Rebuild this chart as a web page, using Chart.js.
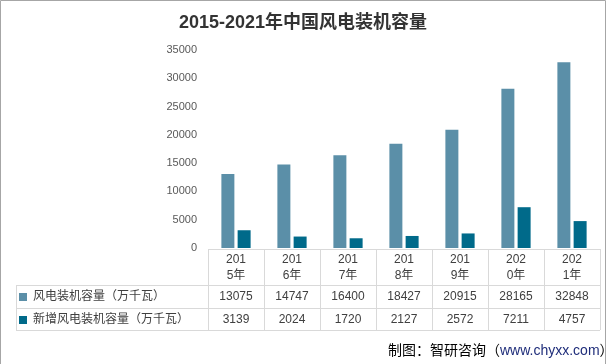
<!DOCTYPE html>
<html>
<head>
<meta charset="utf-8">
<script src="https://cdn.jsdelivr.net/npm/chart.js@4/dist/chart.umd.min.js"></script>
<style>
  html, body { margin: 0; padding: 0; background: #fff; }
  #wrap { width: 606px; height: 364px; position: relative; }
</style>
</head>
<body>
<div id="wrap"><canvas id="chart" width="606" height="364"></canvas></div>
<script>
const years = ['2015年', '2016年', '2017年', '2018年', '2019年', '2020年', '2021年'];
const seriesNames = ['风电装机容量（万千瓦）', '新增风电装机容量（万千瓦）'];
const capacity = [13075, 14747, 16400, 18427, 20915, 28165, 32848];
const added = [3139, 2024, 1720, 2127, 2572, 7211, 4757];
const colors = ['#5B8FA8', '#006A8A'];

const cjk = '"Liberation Sans", "Noto Sans CJK SC", sans-serif';

// draws title, frame, data table and source note
const tablePlugin = {
    id: 'tablePlugin',
    afterDraw(chart) {
        const ctx = chart.ctx;
        const x = chart.scales.x;
        const area = chart.chartArea;
        const band = x.width / years.length;
        const rows = [249, 285, 308, 330];
        ctx.save();

        // outer frame (top, left, right)
        ctx.strokeStyle = '#A6A6A6';
        ctx.lineWidth = 1;
        ctx.beginPath();
        ctx.moveTo(0.5, 364); ctx.lineTo(0.5, 0.5); ctx.lineTo(605.5, 0.5); ctx.lineTo(605.5, 364);
        ctx.stroke();

        // title
        ctx.fillStyle = '#333333';
        ctx.font = 'bold 18px ' + cjk;
        ctx.textAlign = 'center';
        ctx.textBaseline = 'middle';
        ctx.fillText('2015-2021年中国风电装机容量', 303, 23);

        // table lines
        ctx.strokeStyle = '#D9D9D9';
        ctx.beginPath();
        ctx.moveTo(area.left, rows[0] + 0.5); ctx.lineTo(area.right, rows[0] + 0.5);
        for (let r = 1; r < rows.length; r++) {
            ctx.moveTo(16, rows[r] + 0.5); ctx.lineTo(area.right, rows[r] + 0.5);
        }
        ctx.moveTo(16.5, rows[1]); ctx.lineTo(16.5, rows[3]);
        for (let i = 0; i <= years.length; i++) {
            const px = Math.round(area.left + i * band) + 0.5;
            ctx.moveTo(px, rows[0]); ctx.lineTo(px, rows[3]);
        }
        ctx.stroke();

        // header: year split over two lines like the original
        ctx.fillStyle = '#404040';
        ctx.font = '12px ' + cjk;
        years.forEach((y, i) => {
            const cx = x.getPixelForValue(i);
            ctx.fillText(y.slice(0, 3), cx, 260);
            ctx.fillText(y.slice(3), cx, 276);
        });

        // value rows
        [capacity, added].forEach((vals, r) => {
            const cy = r === 0 ? 297 : 320;
            vals.forEach((v, i) => {
                ctx.fillText(String(v), x.getPixelForValue(i), cy);
            });
            ctx.fillStyle = colors[r];
            ctx.fillRect(19, cy - 4, 8, 8);
            ctx.fillStyle = '#404040';
            ctx.textAlign = 'left';
            ctx.fillText(seriesNames[r], 33, cy);
            ctx.textAlign = 'center';
        });

        // source note
        ctx.textAlign = 'left';
        ctx.font = '14px ' + cjk;
        ctx.fillStyle = '#000000';
        const a = '制图：智研咨询（';
        const b = 'www.chyxx.com';
        let sx = 388;
        ctx.fillText(a, sx, 351);
        sx += ctx.measureText(a).width;
        ctx.fillStyle = '#1F2D7A';
        ctx.fillText(b, sx, 351);
        sx += ctx.measureText(b).width;
        ctx.fillStyle = '#000000';
        ctx.fillText('）', sx, 351);
        ctx.restore();
    }
};

new Chart(document.getElementById('chart').getContext('2d'), {
    type: 'bar',
    data: {
        labels: years,
        datasets: [
            { label: seriesNames[0], data: capacity, backgroundColor: colors[0] },
            { label: seriesNames[1], data: added, backgroundColor: colors[1] }
        ]
    },
    options: {
        responsive: false,
        animation: false,
        devicePixelRatio: 1,
        layout: { padding: { left: 0, right: 6, top: 50, bottom: 116 } },
        datasets: { bar: { categoryPercentage: 0.58, barPercentage: 0.8 } },
        plugins: {
            legend: { display: false },
            title: { display: false },
            tooltip: { enabled: false }
        },
        scales: {
            x: { display: false },
            y: {
                min: 0,
                max: 35000,
                afterFit(scale) { scale.width = 208; },
                grid: { display: false, drawTicks: false },
                border: { display: false },
                ticks: {
                    stepSize: 5000,
                    padding: 11,
                    color: '#595959',
                    font: { family: 'Liberation Sans', size: 11 },
                    callback: v => String(v)
                }
            }
        }
    },
    plugins: [tablePlugin]
});
</script>
</body>
</html>
